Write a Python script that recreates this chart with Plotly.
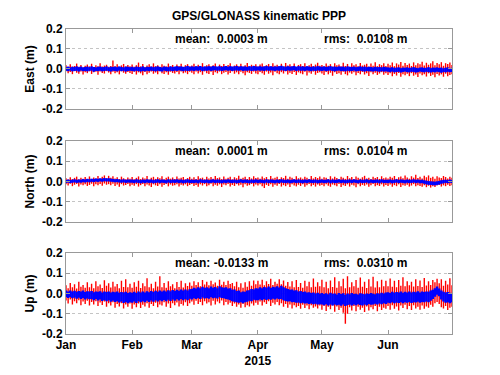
import pandas as pd
import plotly.graph_objects as go
from plotly.subplots import make_subplots

# ---- data: daily max / min of the position residuals (millimetres), from 2015-01-01 ----
start_date = "2015-01-01"

east_red_hi = [18,10,24,12,15,27,11,20,9,16,22,13,26,10,19,14,28,12,17,21,11,15,42,13,24,10,18,25,12,20,14,
               22,11,19,32,13,25,10,17,23,12,28,14,18,11,24,16,12,27,13,20,10,22,15,26,11,19,24,13,
               17,26,12,21,14,29,11,19,24,13,18,27,10,22,15,25,12,20,28,11,17,23,14,26,12,19,30,13,21,16,24,
               12,22,27,13,19,25,11,28,16,21,14,26,12,30,17,23,13,27,11,20,24,15,29,12,18,26,14,22,31,16,
               20,13,27,16,24,12,29,18,22,14,31,15,25,11,28,19,23,13,30,17,21,26,12,27,16,33,14,24,19,28,15,
               26,18,32,14,28,22,35,16,30,20,27,15,33,19,29,24,36,17,31,21,28,38,18,30,23,34,16,29,25,32,
               20]
east_red_lo = [-12,-22,-15,-26,-11,-19,-24,-13,-28,-16,-21,-12,-25,-17,-14,-29,-13,-20,-23,-11,-18,-26,-14,-22,-16,-27,-12,-19,-24,-15,-20,
               -25,-14,-28,-17,-22,-31,-15,-26,-19,-13,-24,-18,-27,-12,-21,-25,-16,-29,-14,-20,-23,-15,-27,-13,-22,-18,-26,-14,
               -19,-27,-13,-23,-16,-29,-12,-21,-25,-14,-30,-17,-22,-13,-26,-19,-15,-28,-20,-12,-24,-17,-27,-14,-22,-31,-16,-20,-25,-13,-23,
               -26,-15,-22,-29,-13,-24,-18,-32,-14,-21,-27,-16,-23,-12,-28,-19,-25,-15,-30,-17,-22,-26,-14,-33,-18,-24,-13,-29,-20,-16,
               -23,-30,-15,-27,-19,-34,-16,-25,-21,-29,-14,-26,-32,-18,-24,-17,-31,-20,-27,-15,-28,-22,-35,-17,-26,-19,-30,-23,-16,-29,-21,
               -30,-22,-37,-25,-33,-20,-39,-27,-31,-24,-36,-21,-34,-28,-40,-23,-32,-26,-38,-22,-35,-29,-42,-25,-33,-27,-39,-24,-36,-30,
               -26]
east_blue_hi = [9,12,8,11,10,13,9,12,8,10,12,9,13,10,8,11,12,9,10,13,8,11,10,12,9,13,10,8,12,11,9,
                11,8,12,10,9,13,8,11,10,12,9,11,13,10,8,12,11,9,13,10,12,14,11,13,10,12,15,11,
                13,11,14,12,15,10,13,12,14,11,15,13,12,14,10,13,15,11,14,12,13,15,11,14,12,13,10,14,12,15,13,
                12,14,11,13,15,12,14,11,13,12,14,16,13,11,14,12,13,15,11,14,12,13,11,14,12,10,13,11,14,12,
                11,13,10,12,14,11,12,10,13,11,12,9,13,11,10,12,9,11,13,10,12,9,11,10,8,11,9,10,8,11,9,
                8,6,9,5,7,8,4,7,6,8,5,7,9,6,4,7,8,5,6,9,4,7,6,8,5,7,3,6,8,5,
                6]
east_blue_lo = [-9,-11,-8,-12,-10,-9,-13,-8,-11,-10,-12,-9,-8,-14,-10,-11,-9,-12,-10,-8,-11,-13,-9,-10,-12,-8,-11,-9,-13,-10,-9,
                -10,-12,-9,-11,-13,-10,-12,-9,-11,-8,-10,-12,-9,-11,-13,-8,-10,-12,-9,-11,-8,-10,-7,-9,-11,-8,-10,-9,
                -8,-10,-7,-9,-6,-11,-8,-9,-7,-10,-8,-6,-9,-7,-10,-8,-6,-9,-7,-10,-8,-7,-9,-6,-10,-8,-9,-7,-10,-8,-9,
                -7,-9,-8,-10,-6,-9,-7,-8,-10,-7,-9,-6,-8,-10,-7,-9,-8,-6,-10,-7,-9,-8,-10,-7,-9,-11,-8,-10,-7,-9,
                -10,-8,-11,-9,-7,-10,-12,-9,-8,-11,-10,-12,-9,-11,-10,-8,-12,-10,-9,-11,-13,-10,-12,-11,-13,-10,-12,-14,-11,-13,-12,
                -14,-16,-13,-17,-15,-14,-18,-15,-13,-16,-17,-14,-15,-18,-16,-13,-15,-17,-14,-16,-18,-15,-17,-14,-16,-19,-15,-17,-14,-16,
                -15]

north_red_hi = [16,10,21,12,18,24,11,19,14,22,13,25,10,20,15,27,14,23,30,17,28,19,26,15,21,12,24,16,11,20,13,
                22,11,18,25,12,20,15,27,10,19,23,13,21,16,26,11,18,24,14,20,12,25,15,19,22,11,17,23,
                14,21,12,26,16,19,11,24,15,22,13,27,17,20,12,25,14,18,23,11,21,16,28,13,19,24,12,22,15,26,17,
                20,13,25,16,22,11,27,15,19,24,12,21,17,28,14,23,18,11,26,16,20,13,24,19,12,27,15,22,17,25,
                14,21,18,12,26,15,23,17,11,24,19,13,27,16,22,12,25,18,14,21,28,15,19,12,24,17,22,13,26,16,20,
                15,23,18,27,13,21,25,16,29,20,14,26,19,33,17,24,15,28,21,30,18,23,14,26,20,17,27,22,15,24,
                18]
north_red_lo = [-14,-20,-11,-23,-16,-12,-25,-15,-19,-13,-22,-17,-11,-24,-14,-18,-12,-21,-10,-16,-13,-19,-11,-22,-15,-26,-13,-20,-17,-12,-23,
                -16,-21,-13,-25,-18,-12,-23,-15,-20,-27,-14,-19,-22,-13,-26,-17,-12,-24,-15,-21,-18,-13,-25,-16,-20,-14,-23,-17,
                -12,-22,-17,-26,-14,-20,-13,-24,-18,-11,-23,-16,-21,-14,-27,-15,-19,-12,-25,-17,-22,-13,-20,-16,-28,-14,-21,-18,-12,-24,-15,
                -20,-13,-24,-32,-17,-22,-14,-26,-16,-21,-12,-25,-18,-23,-15,-27,-13,-20,-24,-16,-22,-14,-26,-19,-12,-23,-17,-25,-15,-21,
                -17,-24,-13,-21,-26,-15,-19,-23,-12,-27,-18,-22,-14,-25,-16,-20,-28,-13,-23,-17,-21,-15,-26,-19,-12,-24,-18,-22,-14,-25,-17,
                -22,-15,-26,-18,-23,-14,-27,-19,-21,-16,-25,-20,-13,-24,-18,-22,-26,-19,-28,-21,-30,-24,-27,-20,-17,-25,-19,-23,-16,-22,
                -18]
north_blue_hi = [8,10,7,9,11,8,10,9,12,10,13,11,14,12,15,13,16,14,17,15,16,14,13,11,12,10,9,11,8,10,9,
                 10,8,11,9,7,10,8,11,9,10,7,9,11,8,10,9,7,11,8,10,9,11,8,10,7,9,11,8,
                 9,8,10,7,11,9,8,10,7,9,11,8,10,9,7,10,8,11,9,8,10,7,9,11,8,10,9,7,10,8,11,
                 8,10,9,7,11,8,10,9,7,10,8,11,9,8,10,7,9,11,8,10,9,7,10,8,11,9,8,10,7,9,
                 10,8,9,11,7,10,8,9,11,8,10,7,9,10,8,11,9,7,10,8,9,11,7,10,8,9,10,7,11,8,9,
                 8,10,7,9,11,8,10,9,7,10,8,9,11,8,10,7,9,6,4,2,1,0,-1,1,3,6,8,9,7,10,
                 8]
north_blue_lo = [-7,-5,-8,-6,-4,-7,-5,-6,-3,-5,-2,-4,-1,-3,0,-2,1,-1,2,0,1,-1,-2,-4,-3,-5,-6,-4,-7,-5,-6,
                 -6,-8,-5,-7,-9,-6,-8,-5,-7,-6,-9,-7,-5,-8,-6,-7,-9,-5,-8,-6,-7,-5,-8,-6,-9,-7,-5,-8,
                 -7,-8,-6,-9,-5,-7,-8,-6,-9,-7,-5,-8,-6,-7,-9,-6,-8,-5,-7,-8,-6,-9,-7,-5,-8,-6,-7,-9,-6,-8,-5,
                 -8,-6,-7,-9,-5,-8,-6,-7,-9,-6,-8,-5,-7,-8,-6,-9,-7,-5,-8,-6,-7,-9,-6,-8,-5,-7,-8,-6,-9,-7,
                 -6,-8,-7,-5,-9,-6,-8,-7,-5,-8,-6,-9,-7,-6,-8,-5,-7,-9,-6,-8,-7,-5,-9,-6,-8,-7,-6,-9,-5,-8,-7,
                 -8,-6,-9,-7,-5,-8,-6,-7,-9,-6,-8,-7,-5,-8,-6,-9,-8,-11,-14,-16,-17,-18,-19,-17,-15,-11,-9,-7,-8,-6,
                 -7]

up_red_hi = [40,26,52,30,45,24,58,33,42,28,55,31,48,25,60,35,44,27,65,38,50,29,57,34,46,26,62,32,70,30,48,
             28,55,33,62,27,50,36,75,30,48,25,58,34,85,31,52,28,60,35,45,26,56,32,63,29,50,37,54,
             38,60,42,55,36,66,44,58,40,62,45,54,38,68,43,57,41,63,46,52,35,58,30,50,28,55,33,60,38,64,45,
             62,44,68,40,60,46,72,42,58,48,70,45,64,38,56,34,60,30,66,32,52,28,62,35,58,30,74,33,55,36,
             68,30,58,26,64,32,80,28,60,35,72,25,85,30,55,36,66,28,78,33,57,27,70,34,82,29,60,31,68,35,62,
             36,74,33,62,30,66,38,80,35,60,40,58,34,70,37,64,32,76,39,60,42,66,55,72,50,70,38,62,44,75,
             40]
up_red_lo = [-35,-50,-30,-55,-38,-48,-33,-58,-40,-52,-36,-60,-42,-54,-38,-62,-45,-57,-40,-66,-48,-60,-44,-70,-52,-64,-48,-74,-55,-66,-50,
             -76,-54,-68,-50,-72,-56,-64,-48,-70,-52,-62,-46,-68,-55,-60,-44,-66,-50,-72,-48,-58,-45,-64,-52,-60,-44,-62,-48,
             -40,-56,-36,-52,-42,-58,-38,-50,-44,-60,-36,-54,-40,-48,-35,-58,-42,-54,-46,-62,-50,-66,-55,-70,-52,-68,-58,-64,-50,-60,-46,
             -56,-40,-60,-44,-52,-38,-62,-46,-55,-42,-58,-48,-66,-52,-70,-55,-74,-58,-68,-62,-76,-56,-72,-60,-78,-58,-70,-64,-74,-60,
             -80,-62,-86,-66,-78,-60,-90,-64,-82,-70,-95,-150,-100,-68,-84,-62,-88,-66,-80,-70,-92,-64,-84,-68,-78,-62,-88,-66,-82,-70,-76,
             -62,-80,-58,-76,-64,-84,-60,-72,-56,-78,-62,-82,-58,-74,-66,-80,-60,-76,-64,-70,-56,-66,-48,-42,-52,-68,-74,-62,-82,-70,
             -66]
up_blue_hi = [14,10,15,9,13,8,12,10,14,7,11,9,12,6,10,8,11,5,9,7,10,4,8,6,9,3,7,5,8,2,6,
              3,8,2,9,4,10,5,11,6,12,7,13,8,14,9,15,10,16,11,17,12,18,13,19,14,20,15,21,
              22,28,24,31,26,33,27,30,25,34,28,32,26,35,30,28,31,24,26,18,20,12,14,6,10,8,14,16,22,20,26,
              24,30,26,32,28,34,27,33,30,36,29,38,31,25,22,18,20,14,16,10,12,7,9,4,6,2,5,0,3,-1,
              2,-3,1,-4,3,-2,0,-5,2,-3,1,-6,0,-4,2,-3,-1,-5,1,-2,-4,0,-3,2,-2,-4,1,-1,3,0,4,
              6,2,8,3,7,4,9,3,8,5,10,4,8,6,11,5,9,7,10,8,14,18,26,34,24,14,8,4,7,3,
              2]
up_blue_lo = [-18,-22,-17,-24,-20,-26,-21,-28,-23,-30,-25,-29,-27,-33,-28,-35,-30,-37,-32,-38,-34,-41,-36,-42,-38,-45,-40,-47,-42,-48,-44,
              -46,-40,-47,-39,-44,-38,-43,-36,-42,-35,-41,-34,-40,-33,-39,-32,-38,-31,-37,-30,-36,-29,-35,-28,-34,-27,-33,-26,
              -30,-24,-28,-22,-27,-20,-25,-23,-26,-19,-24,-21,-25,-18,-22,-24,-27,-30,-33,-38,-41,-43,-46,-44,-48,-43,-41,-36,-38,-31,-33,
              -34,-30,-33,-28,-32,-27,-31,-26,-30,-25,-29,-28,-34,-37,-40,-39,-43,-42,-46,-45,-48,-46,-50,-48,-52,-50,-53,-51,-55,-53,
              -54,-58,-53,-59,-55,-60,-54,-58,-56,-61,-55,-62,-57,-54,-59,-55,-58,-53,-57,-60,-54,-58,-52,-56,-54,-51,-55,-50,-53,-49,-52,
              -46,-49,-44,-48,-45,-47,-43,-48,-44,-46,-42,-47,-43,-45,-41,-46,-42,-44,-40,-43,-36,-28,-16,-6,-14,-30,-40,-46,-44,-48,
              -44]

panels = ["East (m)", "North (m)", "Up (m)"]
mean_labels = ["mean:\u00a0\u00a00.0003 m", "mean:\u00a0\u00a00.0001 m", "mean:\u00a0-0.0133 m"]
rms_labels = ["rms:\u00a0\u00a00.0108 m", "rms:\u00a0\u00a00.0104 m", "rms:\u00a0\u00a00.0310 m"]
title_text = "GPS/GLONASS kinematic PPP"
month_ticks = ["2015-01-01", "2015-02-01", "2015-03-01", "2015-04-01", "2015-05-01", "2015-06-01"]
month_labels = ["Jan", "Feb", "Mar", "Apr<br>2015", "May", "Jun"]
yticks = [-0.2, -0.1, 0.0, 0.1, 0.2]
ytick_labels = ["-0.2", "-0.1", "0.0", "0.1", "0.2"]

series = [
    (east_red_hi, east_red_lo, east_blue_hi, east_blue_lo),
    (north_red_hi, north_red_lo, north_blue_hi, north_blue_lo),
    (up_red_hi, up_red_lo, up_blue_hi, up_blue_lo),
]

fig = make_subplots(rows=3, cols=1)
FONT = "Liberation Sans, Arial, sans-serif"


def spans(hi, lo, color, width, row):
    """one vertical stroke per day, from the daily minimum to the daily maximum"""
    days = pd.date_range(start_date, periods=len(hi), freq="D")
    xs, ys = [], []
    for d, h, l in zip(days, hi, lo):
        xs += [d, d, None]
        ys += [l / 1000, h / 1000, None]
    fig.add_trace(go.Scatter(x=xs, y=ys, mode="lines", line=dict(color=color, width=width),
                             showlegend=False, hoverinfo="skip", connectgaps=False),
                  row=row, col=1)


for i, (rh, rl, bh, bl) in enumerate(series, start=1):
    spans(rh, rl, "rgb(255,0,0)", 1.4, i)
    spans(bh, bl, "rgb(0,0,255)", 2.6, i)

# page has an 8 px body margin, so the figure is 484 x 359 and placed at (8, 8)
domains = [[0.738, 1.0], [0.367, 0.633], [0.0, 0.266]]
tickfont = dict(family=FONT, size=12, color="black", weight="bold")
for i in range(1, 4):
    xa = "xaxis" if i == 1 else f"xaxis{i}"
    ya = "yaxis" if i == 1 else f"yaxis{i}"
    fig.layout[xa].update(
        domain=[0, 1], range=["2015-01-01", "2015-07-01"], tickvals=month_ticks,
        ticktext=month_labels, showticklabels=(i == 3), automargin=False,
        ticks="inside", ticklen=4, tickcolor="#999999", showline=True, linecolor="#999999",
        linewidth=1, mirror="ticks", showgrid=False, zeroline=False, tickfont=tickfont,
    )
    fig.layout[ya].update(
        domain=domains[i - 1], range=[-0.2, 0.2], tickvals=yticks, ticktext=ytick_labels,
        automargin=False,
        ticks="inside", ticklen=4, tickcolor="#999999", showline=True, linecolor="#999999",
        linewidth=1, mirror="ticks", showgrid=True, gridcolor="#c4c4c4", griddash="dot",
        gridwidth=1, zeroline=False, tickfont=tickfont,
        title=dict(text=panels[i - 1], standoff=4,
                   font=dict(family=FONT, size=12, color="black", weight="bold")),
    )
    xref = "x" if i == 1 else f"x{i}"
    yref = "y" if i == 1 else f"y{i}"
    fig.add_annotation(x="2015-02-20", y=0.15, xref=xref, yref=yref, text=mean_labels[i - 1],
                       showarrow=False, xanchor="left", yanchor="middle",
                       font=dict(family=FONT, size=12, color="black", weight="bold"))
    fig.add_annotation(x="2015-05-01", y=0.15, xref=xref, yref=yref, text=rms_labels[i - 1],
                       showarrow=False, xanchor="left", yanchor="middle",
                       font=dict(family=FONT, size=12, color="black", weight="bold"))

fig.add_annotation(x=0.5, y=1.0, xref="paper", yref="paper", yshift=4, text=title_text,
                   showarrow=False, xanchor="center", yanchor="bottom",
                   font=dict(family=FONT, size=12, color="black", weight="bold"))

fig.update_layout(width=484, height=359, margin=dict(l=58, r=40, t=21, b=33, autoexpand=False),
                  paper_bgcolor="white", plot_bgcolor="white")

fig.write_html("out.html")
